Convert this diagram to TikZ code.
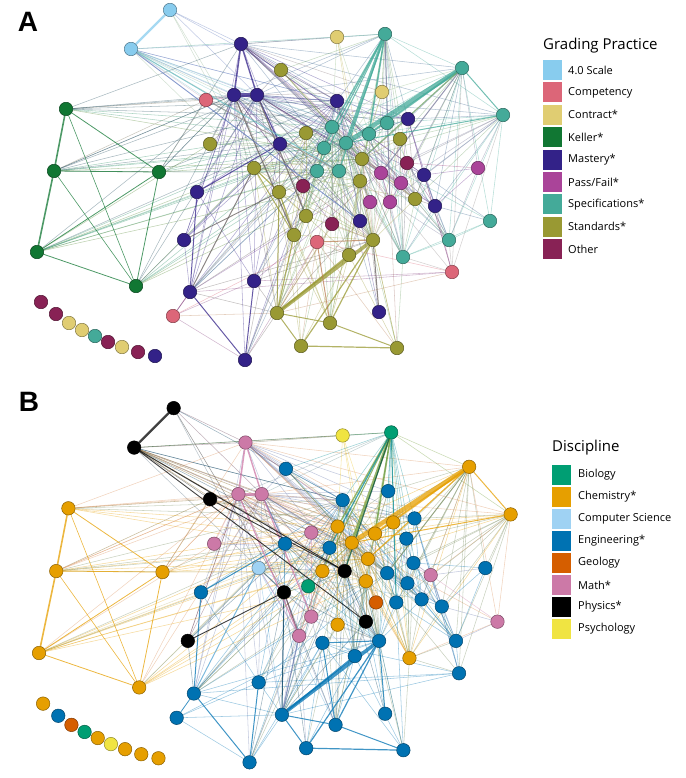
\documentclass[tikz,border=0pt]{standalone}
\usepackage{fontspec}
\setmainfont{Open Sans}
\newfontfamily\labelfont{Liberation Sans}
\usetikzlibrary{backgrounds}
% grading practice (panel A)
\definecolor{gpscale}{HTML}{88CCEE}
\definecolor{gpcomp}{HTML}{DC6678}
\definecolor{gpcont}{HTML}{E0CD72}
\definecolor{gpkell}{HTML}{117733}
\definecolor{gpmast}{HTML}{332288}
\definecolor{gppass}{HTML}{AA4499}
\definecolor{gpspec}{HTML}{44AA99}
\definecolor{gpstan}{HTML}{999933}
\definecolor{gpoth}{HTML}{882255}
% discipline (panel B)
\definecolor{dbio}{HTML}{009E73}
\definecolor{dchem}{HTML}{E69F00}
\definecolor{dcs}{HTML}{9FD2F3}
\definecolor{deng}{HTML}{0072B2}
\definecolor{dgeo}{HTML}{D55E00}
\definecolor{dmath}{HTML}{CC79A7}
\definecolor{dphys}{HTML}{000000}
\definecolor{dpsy}{HTML}{F0E442}
\begin{document}
\begin{tikzpicture}[x=1pt,y=-1pt,line join=round,line cap=round,
	dot/.style={circle,inner sep=0pt,minimum size=13.5pt,line width=0.5pt},
	edge/.style={line width=0.55pt,opacity=0.38},
	bold edge/.style={opacity=0.75},
	key/.style={inner sep=0pt,minimum width=19pt,minimum height=20pt},
	keytext/.style={anchor=west,inner sep=0pt,font=\fontsize{11}{13}\selectfont},
	keytitle/.style={anchor=west,inner sep=0pt,font=\fontsize{15}{18}\selectfont},
	panel/.style={inner sep=0pt,font=\labelfont\bfseries\fontsize{28}{32}\selectfont}]
	\useasboundingbox (0,0) rectangle (685,778);
	\node[panel] (labA) at (28,22) {A};
	\node[panel] (labB) at (29,402) {B};
	% cac dinh: so / x / y / mau A / mau B
	\foreach \i/\x/\y/\cA/\cB in {
		1/170/10/gpscale/dphys, 2/131/49/gpscale/dphys, 3/241/44/gpmast/dmath,
		4/206/100/gpcomp/dphys, 5/234/95/gpmast/dmath, 6/257/95/gpmast/dmath,
		7/66/109/gpkell/dchem, 8/54/171/gpkell/dchem, 9/159/172/gpkell/dchem,
		10/37/252/gpkell/dchem, 11/136/286/gpkell/dchem, 12/210/144/gpstan/dmath,
		13/254/168/gpstan/dcs, 14/197/192/gpmast/deng, 15/184/240/gpmast/dphys,
		16/254/281/gpmast/deng, 17/190/292/gpmast/deng, 18/173/316/gpcomp/deng,
		19/245/360/gpmast/deng, 20/337/37/gpcont/dpsy, 21/385/34/gpspec/dbio,
		22/462/68/gpspec/dchem, 23/281/70/gpstan/deng, 24/382/92/gpcont/deng,
		25/337/101/gpmast/deng, 26/503/115/gpspec/dchem, 27/408/119/gpmast/deng,
		28/387/123/gpspec/dchem, 29/332/127/gpspec/dchem, 30/306/133/gpstan/dmath,
		31/369/134/gpspec/dchem, 32/400/139/gpstan/deng, 33/346/143/gpspec/dchem,
		34/280/144/gpmast/deng, 35/324/148/gpspec/deng, 36/362/159/gpstan/dchem,
		37/407/163/gpoth/deng, 38/478/168/gppass/deng, 39/317/171/gpspec/dchem,
		40/339/171/gpspec/dphys, 41/381/173/gppass/deng, 42/424/175/gpmast/dmath,
		43/360/181/gpstan/dchem, 44/401/183/gppass/deng, 45/303/186/gpoth/dbio,
		46/279/192/gpstan/dphys, 47/415/199/gpstan/deng, 48/370/202/gppass/dgeo,
		49/390/202/gppass/deng, 50/435/206/gpmast/deng, 51/306/216/gpstan/dmath,
		52/490/221/gpspec/dmath, 53/360/221/gpmast/dphys, 54/332/224/gpoth/dchem,
		55/294/235/gpstan/dmath, 56/317/242/gpcomp/deng, 57/373/240/gpstan/deng,
		58/449/240/gpspec/deng, 59/349/255/gpstan/deng, 60/403/257/gpspec/dchem,
		61/452/272/gpcomp/deng, 62/277/313/gpstan/deng, 63/379/312/gpmast/deng,
		64/330/323/gpstan/deng, 65/301/346/gpstan/deng, 66/397/348/gpstan/deng,
		67/41/302/gpoth/dchem, 68/56/314/gpoth/deng, 69/69/323/gpcont/dgeo,
		70/82/330/gpcont/dbio, 71/95/336/gpspec/dchem, 72/108/342/gpoth/dpsy,
		73/122/347/gpcont/dchem, 74/138/352/gpoth/dchem, 75/155/356/gpmast/dchem}{
		\node[dot,fill=\cA,draw=\cA!60!black] (a\i) at (\x,\y) {};
		\node[dot,fill=\cB,draw=\cB!60!black] (b\i) at ({1.6+1.012*\x},{398+1.012*\y}) {};
		\expandafter\xdef\csname colA\i\endcsname{\cA}
		\expandafter\xdef\csname colB\i\endcsname{\cB}
	}
	\begin{pgfonlayer}{background}
		% canh mong
		\foreach \p/\q in {
			1/3,1/25,1/46,1/13,1/6,
			2/3,2/5,2/25,2/29,2/33,2/35,2/39,2/43,2/13,2/4,2/6,2/36,2/27,2/31,
			3/20,3/21,3/25,3/27,3/28,3/29,3/31,3/33,3/34,3/36,3/41,3/22,3/42,3/44,3/47,3/23,3/35,3/37,3/50,3/24,3/26,
			4/7,4/6,4/33,4/9,4/8,4/29,
			5/4,5/14,5/15,5/16,5/17,5/34,5/46,5/12,5/13,5/29,5/33,5/35,5/39,5/45,5/8,5/9,5/7,5/53,5/25,5/27,5/54,5/43,5/62,
			6/46,6/25,6/29,6/31,6/33,6/35,6/41,6/42,6/50,6/27,6/28,6/36,6/39,6/44,6/47,6/21,6/24,6/26,6/22,6/16,6/17,6/57,
			7/25,7/33,7/29,7/6,7/3,7/27,7/36,
			8/5,8/6,8/25,8/33,8/29,8/35,8/34,8/36,8/41,
			9/5,9/33,9/29,9/39,9/3,9/25,9/36,
			10/5,10/12,10/13,10/33,10/34,10/29,10/39,10/35,10/28,10/36,10/43,
			11/5,11/6,11/13,11/34,11/33,11/39,11/36,11/43,11/29,
			12/6,12/33,12/35,12/29,
			13/30,13/36,13/43,13/39,13/40,13/57,13/59,13/62,13/47,13/32,13/64,13/33,
			14/16,14/6,14/25,
			15/34,15/6,15/5,15/25,15/17,
			16/34,16/25,16/33,16/29,16/62,16/57,16/41,16/61,
			17/25,17/33,17/29,17/35,17/41,17/43,17/39,17/46,17/57,17/62,17/3,
			18/19,18/62,18/16,18/56,
			19/62,19/56,19/55,19/46,19/25,19/33,19/39,19/5,
			20/21,20/36,20/29,20/31,20/43,20/2,
			21/22,21/26,21/24,21/28,21/44,21/41,21/36,21/43,21/25,21/27,21/32,21/47,21/57,21/59,21/60,21/5,21/2,21/23,
			22/28,22/27,22/32,22/44,22/47,22/49,22/38,22/52,22/58,22/60,22/61,22/29,22/35,22/39,22/42,22/50,22/24,22/57,
			23/25,23/33,23/29,23/6,23/36,23/31,23/41,
			24/33,24/31,24/36,24/29,
			25/29,25/33,25/31,25/35,25/39,25/40,25/41,25/36,25/43,25/44,25/46,25/47,25/57,25/59,25/48,25/60,25/63,
			26/27,26/28,26/31,26/32,26/36,26/37,26/41,26/42,26/44,26/47,26/49,26/52,26/58,26/60,26/61,26/38,26/50,
			27/33,27/31,27/36,27/42,27/44,27/50,27/47,27/61,
			28/33,28/31,28/29,28/36,28/41,28/49,28/58,28/60,
			29/33,29/31,29/35,29/39,29/40,29/36,29/43,29/45,29/51,29/54,29/55,29/57,29/59,29/60,29/64,
			30/33,30/35,30/39,30/46,30/51,30/55,30/57,30/62,
			31/33,31/36,31/41,31/43,31/44,31/48,31/49,31/57,31/60,31/58,31/64,
			32/36,32/41,32/44,32/47,32/49,32/57,32/60,
			33/35,33/36,33/39,33/40,33/41,33/43,33/44,33/45,33/47,33/48,33/49,33/51,33/53,33/54,33/55,33/56,33/57,33/58,33/59,33/60,33/62,33/64,33/65,33/66,33/52,33/61,
			34/46,34/51,34/39,34/40,34/45,34/62,34/57,
			35/39,35/40,35/43,35/51,35/55,35/57,35/59,35/62,
			36/41,36/43,36/44,36/47,36/48,36/49,36/57,36/59,36/60,36/63,
			37/50,37/42,37/38,37/58,37/60,37/44,
			38/42,38/50,38/58,
			39/43,39/46,39/51,39/55,39/57,39/59,39/62,39/64,
			40/43,40/53,40/57,40/59,40/62,40/64,40/45,40/63,
			41/44,41/49,41/47,41/57,41/60,41/58,
			42/50,42/47,42/58,42/61,42/52,
			43/49,43/48,43/53,43/57,43/59,43/60,43/62,43/64,43/66,
			44/47,44/49,44/50,44/58,44/60,
			45/46,45/55,45/51,45/57,
			46/51,46/57,46/64,46/65,
			47/50,47/58,47/60,47/57,
			48/57,48/59,48/60,
			49/57,49/60,49/58,49/66,
			50/58,50/60,50/61,50/52,
			51/55,51/57,51/62,51/64,
			52/58,52/60,53/57,53/59,53/62,54/57,54/62,
			55/57,55/65,55/64,
			56/65,56/66,56/62,56/61,56/59,
			57/66,58/60,58/61,59/64,59/65,59/66,60/66,60/61,61/62,61/17}{
			\edef\ecA{\csname colA\p\endcsname!50!\csname colA\q\endcsname}
			\edef\ecB{\csname colB\p\endcsname!50!\csname colB\q\endcsname}
			\draw[edge,draw=\ecA] (a\p) -- (a\q);
			\draw[edge,draw=\ecB] (b\p) -- (b\q);
		}
		% canh dam
		\foreach \p/\q/\w in {
			1/2/2.2,3/5/1.6,3/6/1.4,5/6/3.2,7/8/1.6,8/10/1.6,7/9/0.8,8/9/0.8,9/10/0.8,
			9/11/0.8,10/11/0.8,7/11/0.6,8/11/0.6,21/33/2.8,21/29/1.4,21/31/1.6,21/39/1.0,
			21/40/1.2,21/35/1.2,21/49/1.0,22/33/4.5,22/31/1.8,22/36/1.2,22/41/1.0,22/26/1.0,
			26/33/1.0,62/57/3.6,62/59/1.8,57/64/1.2,57/65/1.2,65/66/1.2,62/65/1.0,62/64/1.0,
			64/66/1.0,55/62/1.2,46/55/1.2,46/62/1.0,13/46/1.0,13/55/1.0,63/57/1.0,6/34/1.2,
			17/19/1.0,17/14/1.0,14/34/1.0,17/13/1.0,16/19/1.0,17/18/0.8,56/57/1.0,56/64/1.0,
			5/55/1.2,6/51/1.2,2/40/1.0,2/53/0.9,4/40/0.9,15/46/0.9}{
			\edef\ecA{\csname colA\p\endcsname!50!\csname colA\q\endcsname}
			\edef\ecB{\csname colB\p\endcsname!50!\csname colB\q\endcsname}
			\draw[bold edge,line width=\w pt,draw=\ecA] (a\p) -- (a\q);
			\draw[bold edge,line width=\w pt,draw=\ecB] (b\p) -- (b\q);
		}
	\end{pgfonlayer}
	% chu thich A
	\node[keytitle] (titA) at (543,46) {Grading Practice};
	\foreach \c/\t [count=\k] in {gpscale/4.0 Scale,gpcomp/Competency,gpcont/Contract*,
		gpkell/Keller*,gpmast/Mastery*,gppass/{Pass/Fail*},gpspec/Specifications*,
		gpstan/Standards*,gpoth/Other}{
		\node[key,fill=\c] (keyA\k) at (552,{70+22.4*(\k-1)}) {};
		\node[keytext] (txtA\k) at (568,{70+22.4*(\k-1)}) {\t};
	}
	% chu thich B
	\node[keytitle] (titB) at (552,448) {Discipline};
	\foreach \c/\t [count=\k] in {dbio/Biology,dchem/Chemistry*,dcs/Computer Science,
		deng/Engineering*,dgeo/Geology,dmath/Math*,dphys/Physics*,dpsy/Psychology}{
		\node[key,fill=\c] (keyB\k) at (561.5,{475+22*(\k-1)}) {};
		\node[keytext] (txtB\k) at (578,{475+22*(\k-1)}) {\t};
	}
\end{tikzpicture}
\end{document}
